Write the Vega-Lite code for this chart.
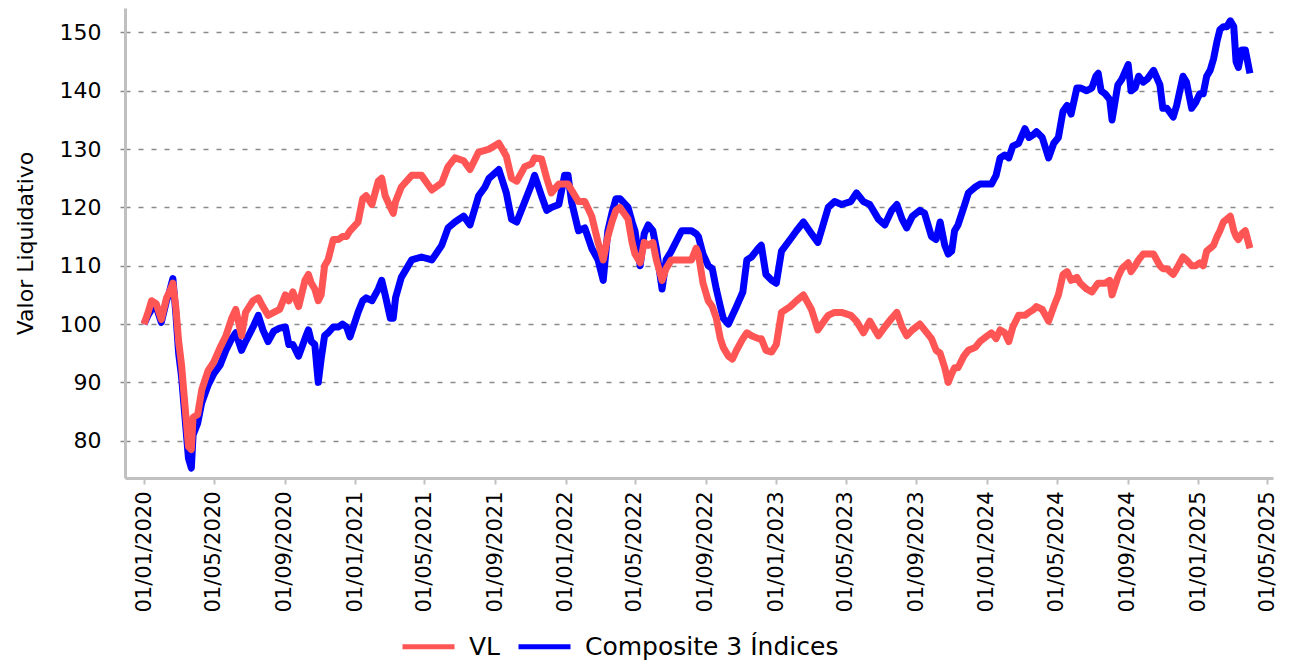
{
  "$schema": "https://vega.github.io/schema/vega-lite/v6.json",
  "autosize": "none",
  "width": 1148,
  "height": 470,
  "padding": {"left": 125, "top": 8, "right": 16, "bottom": 184},
  "background": "white",
  "config": {
    "view": {"stroke": null},
    "font": "DejaVu Sans"
  },
  "datasets": {
    "vl": [
      {"d":"2020-01-01","v":100},{"d":"2020-01-08","v":102},{"d":"2020-01-14","v":104},{"d":"2020-01-22","v":103.5},{"d":"2020-01-31","v":100.8},
      {"d":"2020-02-09","v":104.5},{"d":"2020-02-14","v":105.5},{"d":"2020-02-20","v":107},{"d":"2020-02-25","v":103},{"d":"2020-03-01","v":97},
      {"d":"2020-03-06","v":93},{"d":"2020-03-12","v":86},{"d":"2020-03-18","v":79},{"d":"2020-03-23","v":78.5},{"d":"2020-03-26","v":84},
      {"d":"2020-04-03","v":84.5},{"d":"2020-04-10","v":88.7},{"d":"2020-04-21","v":92},{"d":"2020-05-01","v":93.5},{"d":"2020-05-12","v":96},
      {"d":"2020-05-22","v":98},{"d":"2020-06-01","v":101},{"d":"2020-06-08","v":102.5},{"d":"2020-06-18","v":98},{"d":"2020-06-25","v":102},
      {"d":"2020-07-08","v":104},{"d":"2020-07-17","v":104.5},{"d":"2020-07-25","v":103},{"d":"2020-08-03","v":101.5},{"d":"2020-08-13","v":102},
      {"d":"2020-08-23","v":102.5},{"d":"2020-09-02","v":105},{"d":"2020-09-08","v":104},{"d":"2020-09-15","v":105.5},{"d":"2020-09-25","v":103},
      {"d":"2020-10-06","v":107.5},{"d":"2020-10-12","v":108.5},{"d":"2020-10-17","v":107},{"d":"2020-10-23","v":106},{"d":"2020-10-29","v":104},
      {"d":"2020-11-03","v":105},{"d":"2020-11-09","v":110},{"d":"2020-11-15","v":111},{"d":"2020-11-24","v":114.5},{"d":"2020-12-03","v":114.5},
      {"d":"2020-12-10","v":115},{"d":"2020-12-17","v":115},{"d":"2020-12-23","v":116},
      {"d":"2021-01-06","v":117.5},{"d":"2021-01-14","v":121.5},{"d":"2021-01-20","v":122},{"d":"2021-01-30","v":120.5},{"d":"2021-02-10","v":124.5},
      {"d":"2021-02-16","v":125},{"d":"2021-02-22","v":122},{"d":"2021-03-03","v":120},{"d":"2021-03-08","v":119},{"d":"2021-03-12","v":121},
      {"d":"2021-03-22","v":123.5},{"d":"2021-04-09","v":125.5},{"d":"2021-04-26","v":125.5},{"d":"2021-05-14","v":123},{"d":"2021-05-31","v":124.2},
      {"d":"2021-06-11","v":127},{"d":"2021-06-23","v":128.5},{"d":"2021-07-08","v":128},{"d":"2021-07-19","v":126.5},{"d":"2021-08-03","v":129.5},
      {"d":"2021-08-14","v":129.8},{"d":"2021-08-21","v":130},{"d":"2021-09-07","v":131},{"d":"2021-09-20","v":128.8},{"d":"2021-09-29","v":125},
      {"d":"2021-10-08","v":124.5},{"d":"2021-10-22","v":127},{"d":"2021-11-03","v":127.5},{"d":"2021-11-08","v":128.5},{"d":"2021-11-20","v":128.3},
      {"d":"2021-11-29","v":125},{"d":"2021-12-07","v":122.5},{"d":"2021-12-20","v":124},{"d":"2021-12-30","v":124},
      {"d":"2022-01-05","v":124},{"d":"2022-01-11","v":123},{"d":"2022-01-23","v":121},{"d":"2022-02-03","v":121},{"d":"2022-02-15","v":118.5},
      {"d":"2022-02-26","v":114},{"d":"2022-03-07","v":111},{"d":"2022-03-15","v":115},{"d":"2022-03-22","v":117.5},{"d":"2022-03-29","v":119.5},
      {"d":"2022-04-05","v":120},{"d":"2022-04-19","v":118},{"d":"2022-04-26","v":114},{"d":"2022-05-01","v":112},{"d":"2022-05-10","v":110.5},
      {"d":"2022-05-17","v":114},{"d":"2022-05-24","v":113.5},{"d":"2022-06-01","v":114},{"d":"2022-06-07","v":111},{"d":"2022-06-17","v":107.5},
      {"d":"2022-06-24","v":109.5},{"d":"2022-07-03","v":111},{"d":"2022-07-21","v":111},{"d":"2022-08-07","v":111},{"d":"2022-08-15","v":113},
      {"d":"2022-08-19","v":112},{"d":"2022-08-27","v":107},{"d":"2022-09-05","v":104},{"d":"2022-09-12","v":103},{"d":"2022-09-19","v":101},
      {"d":"2022-09-26","v":97.5},{"d":"2022-10-01","v":96},{"d":"2022-10-10","v":94.5},{"d":"2022-10-17","v":94},{"d":"2022-10-24","v":95.5},
      {"d":"2022-11-04","v":97.5},{"d":"2022-11-11","v":98.5},{"d":"2022-11-19","v":98},{"d":"2022-12-01","v":97.5},{"d":"2022-12-06","v":97.5},
      {"d":"2022-12-14","v":95.5},{"d":"2022-12-24","v":95.2},
      {"d":"2023-01-01","v":96.5},{"d":"2023-01-10","v":102},{"d":"2023-01-25","v":103},{"d":"2023-02-05","v":104},{"d":"2023-02-17","v":105},
      {"d":"2023-03-03","v":102.5},{"d":"2023-03-14","v":99},{"d":"2023-04-01","v":101.5},{"d":"2023-04-12","v":102},{"d":"2023-04-24","v":102},
      {"d":"2023-05-10","v":101.5},{"d":"2023-05-20","v":100.5},{"d":"2023-06-01","v":98.5},{"d":"2023-06-12","v":100.5},{"d":"2023-06-27","v":98},
      {"d":"2023-07-08","v":99.5},{"d":"2023-07-20","v":101},{"d":"2023-07-29","v":102},{"d":"2023-08-07","v":99.5},{"d":"2023-08-15","v":98},
      {"d":"2023-08-25","v":99},{"d":"2023-09-07","v":100},{"d":"2023-09-15","v":99},{"d":"2023-09-27","v":97.5},{"d":"2023-10-05","v":95.5},
      {"d":"2023-10-12","v":95},{"d":"2023-10-20","v":92.5},{"d":"2023-10-26","v":90},{"d":"2023-11-01","v":91.5},{"d":"2023-11-06","v":92.5},
      {"d":"2023-11-12","v":92.5},{"d":"2023-11-22","v":94.5},{"d":"2023-11-30","v":95.5},{"d":"2023-12-12","v":96},{"d":"2023-12-20","v":97},
      {"d":"2024-01-02","v":98},{"d":"2024-01-09","v":98.5},{"d":"2024-01-17","v":97.5},{"d":"2024-01-24","v":99},{"d":"2024-02-01","v":98.5},
      {"d":"2024-02-08","v":97},{"d":"2024-02-15","v":99.5},{"d":"2024-02-25","v":101.5},{"d":"2024-03-07","v":101.5},{"d":"2024-03-14","v":102},
      {"d":"2024-03-22","v":102.5},{"d":"2024-03-27","v":103},{"d":"2024-04-06","v":102.5},{"d":"2024-04-17","v":100.5},{"d":"2024-04-26","v":103},
      {"d":"2024-05-04","v":105},{"d":"2024-05-12","v":108.5},{"d":"2024-05-19","v":109},{"d":"2024-05-26","v":107.5},{"d":"2024-06-05","v":108},
      {"d":"2024-06-11","v":107},{"d":"2024-06-22","v":106},{"d":"2024-07-01","v":105.5},{"d":"2024-07-08","v":106.5},{"d":"2024-07-12","v":107},
      {"d":"2024-07-17","v":107},{"d":"2024-07-24","v":107},{"d":"2024-08-01","v":107.5},{"d":"2024-08-05","v":105},{"d":"2024-08-15","v":108},
      {"d":"2024-08-22","v":109.5},{"d":"2024-09-02","v":110.5},{"d":"2024-09-07","v":109},{"d":"2024-09-14","v":110},{"d":"2024-09-20","v":111},
      {"d":"2024-09-28","v":112},{"d":"2024-10-05","v":112},{"d":"2024-10-16","v":112},{"d":"2024-10-27","v":110},{"d":"2024-11-01","v":109.5},
      {"d":"2024-11-08","v":109.5},{"d":"2024-11-19","v":108.5},{"d":"2024-11-25","v":109.5},{"d":"2024-12-06","v":111.5},{"d":"2024-12-12","v":111},
      {"d":"2024-12-21","v":110},{"d":"2024-12-28","v":110},
      {"d":"2025-01-04","v":110.5},{"d":"2025-01-10","v":110},{"d":"2025-01-16","v":112.5},{"d":"2025-01-22","v":113},{"d":"2025-01-28","v":113.5},
      {"d":"2025-02-03","v":115},{"d":"2025-02-08","v":116},{"d":"2025-02-14","v":117.5},{"d":"2025-02-20","v":118},{"d":"2025-02-26","v":118.5},
      {"d":"2025-03-04","v":116},{"d":"2025-03-08","v":115},{"d":"2025-03-12","v":114.5},{"d":"2025-03-18","v":115.5},{"d":"2025-03-24","v":116},
      {"d":"2025-04-01","v":113}
    ],
    "comp": [
      {"d":"2020-01-01","v":100},{"d":"2020-01-08","v":101.5},{"d":"2020-01-14","v":102.5},{"d":"2020-01-22","v":103},{"d":"2020-01-31","v":100.3},
      {"d":"2020-02-09","v":104},{"d":"2020-02-14","v":105.5},{"d":"2020-02-20","v":107.8},{"d":"2020-02-25","v":102},{"d":"2020-03-01","v":95},
      {"d":"2020-03-06","v":91},{"d":"2020-03-12","v":84},{"d":"2020-03-18","v":77},{"d":"2020-03-23","v":75.3},{"d":"2020-03-26","v":81},
      {"d":"2020-04-03","v":83},{"d":"2020-04-10","v":86.5},{"d":"2020-04-21","v":89.5},{"d":"2020-05-01","v":91.5},{"d":"2020-05-12","v":93},
      {"d":"2020-05-22","v":95.5},{"d":"2020-06-01","v":97.5},{"d":"2020-06-08","v":98.5},{"d":"2020-06-18","v":95.5},{"d":"2020-06-25","v":97},
      {"d":"2020-07-08","v":99.5},{"d":"2020-07-17","v":101.5},{"d":"2020-07-25","v":99},{"d":"2020-08-03","v":97},{"d":"2020-08-13","v":98.8},
      {"d":"2020-08-23","v":99.3},{"d":"2020-09-02","v":99.5},{"d":"2020-09-08","v":96.5},{"d":"2020-09-15","v":96.5},{"d":"2020-09-25","v":94.5},
      {"d":"2020-10-06","v":97.5},{"d":"2020-10-12","v":99},{"d":"2020-10-17","v":97},{"d":"2020-10-23","v":96.5},{"d":"2020-10-29","v":90},
      {"d":"2020-11-03","v":94},{"d":"2020-11-09","v":98},{"d":"2020-11-15","v":98.5},{"d":"2020-11-24","v":99.5},{"d":"2020-12-03","v":99.5},
      {"d":"2020-12-10","v":100},{"d":"2020-12-17","v":99.5},{"d":"2020-12-23","v":97.8},
      {"d":"2021-01-06","v":102},{"d":"2021-01-14","v":104},{"d":"2021-01-20","v":104.5},{"d":"2021-01-30","v":104},{"d":"2021-02-10","v":106},
      {"d":"2021-02-16","v":107.5},{"d":"2021-02-22","v":105},{"d":"2021-03-03","v":101},{"d":"2021-03-08","v":101},{"d":"2021-03-12","v":104.5},
      {"d":"2021-03-22","v":108},{"d":"2021-04-09","v":111},{"d":"2021-04-26","v":111.5},{"d":"2021-05-14","v":111},{"d":"2021-05-31","v":113.5},
      {"d":"2021-06-11","v":116.5},{"d":"2021-06-23","v":117.5},{"d":"2021-07-08","v":118.5},{"d":"2021-07-19","v":117},{"d":"2021-08-03","v":122},
      {"d":"2021-08-14","v":123.5},{"d":"2021-08-21","v":125},{"d":"2021-09-07","v":126.5},{"d":"2021-09-20","v":122.5},{"d":"2021-09-29","v":118},
      {"d":"2021-10-08","v":117.5},{"d":"2021-10-22","v":121},{"d":"2021-11-03","v":124},{"d":"2021-11-08","v":125.5},{"d":"2021-11-20","v":122},
      {"d":"2021-11-29","v":119.5},{"d":"2021-12-07","v":120},{"d":"2021-12-20","v":120.5},{"d":"2021-12-30","v":125.5},
      {"d":"2022-01-05","v":125.5},{"d":"2022-01-11","v":121},{"d":"2022-01-23","v":116},{"d":"2022-02-03","v":116.5},{"d":"2022-02-15","v":113},
      {"d":"2022-02-26","v":111},{"d":"2022-03-07","v":107.5},{"d":"2022-03-15","v":116},{"d":"2022-03-22","v":119},{"d":"2022-03-29","v":121.5},
      {"d":"2022-04-05","v":121.5},{"d":"2022-04-19","v":120},{"d":"2022-04-26","v":117.5},{"d":"2022-05-01","v":116},{"d":"2022-05-10","v":110},
      {"d":"2022-05-17","v":115.5},{"d":"2022-05-24","v":117},{"d":"2022-06-01","v":116},{"d":"2022-06-07","v":113},{"d":"2022-06-17","v":106},
      {"d":"2022-06-24","v":111},{"d":"2022-07-03","v":112.5},{"d":"2022-07-21","v":116},{"d":"2022-08-07","v":116},{"d":"2022-08-15","v":115.5},
      {"d":"2022-08-19","v":115},{"d":"2022-08-27","v":112},{"d":"2022-09-05","v":110},{"d":"2022-09-12","v":109.5},{"d":"2022-09-19","v":106},
      {"d":"2022-09-26","v":103},{"d":"2022-10-01","v":101},{"d":"2022-10-10","v":100},{"d":"2022-10-17","v":101.5},{"d":"2022-10-24","v":103},
      {"d":"2022-11-04","v":105.5},{"d":"2022-11-11","v":111},{"d":"2022-11-19","v":111.5},{"d":"2022-12-01","v":113},{"d":"2022-12-06","v":113.5},
      {"d":"2022-12-14","v":108.5},{"d":"2022-12-24","v":107.5},
      {"d":"2023-01-01","v":107},{"d":"2023-01-10","v":112.5},{"d":"2023-01-25","v":114.5},{"d":"2023-02-05","v":116},{"d":"2023-02-17","v":117.5},
      {"d":"2023-03-03","v":115.5},{"d":"2023-03-14","v":114},{"d":"2023-04-01","v":120},{"d":"2023-04-12","v":121},{"d":"2023-04-24","v":120.5},
      {"d":"2023-05-10","v":121},{"d":"2023-05-20","v":122.5},{"d":"2023-06-01","v":121},{"d":"2023-06-12","v":120.5},{"d":"2023-06-27","v":118},
      {"d":"2023-07-08","v":117},{"d":"2023-07-20","v":119.5},{"d":"2023-07-29","v":120.5},{"d":"2023-08-07","v":118},{"d":"2023-08-15","v":116.5},
      {"d":"2023-08-25","v":118.5},{"d":"2023-09-07","v":119.5},{"d":"2023-09-15","v":119},{"d":"2023-09-27","v":115},{"d":"2023-10-05","v":114.5},
      {"d":"2023-10-12","v":117.5},{"d":"2023-10-20","v":113.5},{"d":"2023-10-26","v":112},{"d":"2023-11-01","v":112.5},{"d":"2023-11-06","v":116},
      {"d":"2023-11-12","v":117},{"d":"2023-11-22","v":120},{"d":"2023-11-30","v":122.5},{"d":"2023-12-12","v":123.5},{"d":"2023-12-20","v":124},
      {"d":"2024-01-02","v":124},{"d":"2024-01-09","v":124},{"d":"2024-01-17","v":125.5},{"d":"2024-01-24","v":128.5},{"d":"2024-02-01","v":129},
      {"d":"2024-02-08","v":128.5},{"d":"2024-02-15","v":130.5},{"d":"2024-02-25","v":131},{"d":"2024-03-07","v":133.5},{"d":"2024-03-14","v":132},
      {"d":"2024-03-22","v":132.5},{"d":"2024-03-27","v":133},{"d":"2024-04-06","v":132},{"d":"2024-04-17","v":128.5},{"d":"2024-04-26","v":131},
      {"d":"2024-05-04","v":132},{"d":"2024-05-12","v":136.5},{"d":"2024-05-19","v":137.5},{"d":"2024-05-26","v":136},{"d":"2024-06-05","v":140.5},
      {"d":"2024-06-11","v":140.5},{"d":"2024-06-22","v":140},{"d":"2024-07-01","v":140.5},{"d":"2024-07-08","v":142.5},{"d":"2024-07-12","v":143},
      {"d":"2024-07-17","v":140},{"d":"2024-07-24","v":139.5},{"d":"2024-08-01","v":138.5},{"d":"2024-08-05","v":135},{"d":"2024-08-15","v":141},
      {"d":"2024-08-22","v":142},{"d":"2024-09-02","v":144.5},{"d":"2024-09-07","v":140},{"d":"2024-09-14","v":140.5},{"d":"2024-09-20","v":142.5},
      {"d":"2024-09-28","v":141.5},{"d":"2024-10-05","v":142},{"d":"2024-10-16","v":143.5},{"d":"2024-10-27","v":141},{"d":"2024-11-01","v":137},
      {"d":"2024-11-08","v":137},{"d":"2024-11-19","v":135.5},{"d":"2024-11-25","v":137.5},{"d":"2024-12-06","v":142.5},{"d":"2024-12-12","v":141.5},
      {"d":"2024-12-21","v":137},{"d":"2024-12-28","v":138},
      {"d":"2025-01-04","v":139.5},{"d":"2025-01-10","v":139.5},{"d":"2025-01-16","v":142.5},{"d":"2025-01-22","v":143.5},{"d":"2025-01-28","v":145.5},
      {"d":"2025-02-03","v":148.5},{"d":"2025-02-08","v":150.5},{"d":"2025-02-14","v":151},{"d":"2025-02-20","v":151},{"d":"2025-02-26","v":152},
      {"d":"2025-03-04","v":151},{"d":"2025-03-08","v":145},{"d":"2025-03-12","v":144},{"d":"2025-03-18","v":147},{"d":"2025-03-24","v":147},
      {"d":"2025-04-01","v":143}
    ]
  },
  "encoding": {
    "x": {
      "field": "d",
      "type": "temporal",
      "title": null,
      "scale": {
        "type": "utc",
        "domain": [
          {"year": 2019, "month": 11, "date": 29, "utc": true},
          {"year": 2025, "month": 5, "date": 11, "utc": true}
        ]
      },
      "axis": {
        "values": [
          {"year":2020,"month":1,"date":1,"utc":true},{"year":2020,"month":5,"date":1,"utc":true},{"year":2020,"month":9,"date":1,"utc":true},
          {"year":2021,"month":1,"date":1,"utc":true},{"year":2021,"month":5,"date":1,"utc":true},{"year":2021,"month":9,"date":1,"utc":true},
          {"year":2022,"month":1,"date":1,"utc":true},{"year":2022,"month":5,"date":1,"utc":true},{"year":2022,"month":9,"date":1,"utc":true},
          {"year":2023,"month":1,"date":1,"utc":true},{"year":2023,"month":5,"date":1,"utc":true},{"year":2023,"month":9,"date":1,"utc":true},
          {"year":2024,"month":1,"date":1,"utc":true},{"year":2024,"month":5,"date":1,"utc":true},{"year":2024,"month":9,"date":1,"utc":true},
          {"year":2025,"month":1,"date":1,"utc":true},{"year":2025,"month":5,"date":1,"utc":true}
        ],
        "labelExpr": "utcFormat(datum.value, '%d/%m/%Y')",
        "labelAngle": -90,
        "labelFontSize": 21,
        "labelFont": "DejaVu Sans",
        "labelColor": "#000000",
        "labelPadding": 7,
        "labelFlush": false,
        "labelOverlap": false,
        "grid": false,
        "domainColor": "#c0c0c0",
        "domainWidth": 3,
        "tickColor": "#c0c0c0",
        "tickWidth": 2,
        "tickSize": 6
      }
    },
    "y": {
      "field": "v",
      "type": "quantitative",
      "title": "Valor Liquidativo",
      "scale": {"domain": [73.6, 154.2], "nice": false, "zero": false},
      "axis": {
        "values": [80, 90, 100, 110, 120, 130, 140, 150],
        "labelFontSize": 22,
        "labelFont": "DejaVu Sans",
        "labelColor": "#000000",
        "labelPadding": 16,
        "titleFont": "DejaVu Sans",
        "titleFontSize": 22,
        "titleFontWeight": "normal",
        "titleColor": "#000000",
        "titlePadding": 22,
        "grid": true,
        "gridColor": "#8a8a8a",
        "gridWidth": 1.5,
        "gridDash": [5, 8],
        "tickColor": "#8a8a8a",
        "tickWidth": 1.5,
        "tickSize": 8,
        "tickDash": [5, 8],
        "domainColor": "#c0c0c0",
        "domainWidth": 3
      }
    }
  },
  "layer": [
    {
      "data": {"name": "comp"},
      "mark": {"type": "line", "strokeWidth": 7, "strokeJoin": "round"},
      "encoding": {
        "color": {
          "datum": "Composite 3 Índices",
          "type": "nominal",
          "scale": {"domain": ["VL", "Composite 3 Índices"], "range": ["#ff5555", "#0000ff"]},
          "legend": {
            "title": null,
            "orient": "none",
            "legendX": 275,
            "legendY": 610,
            "direction": "horizontal",
            "symbolType": "stroke",
            "symbolStrokeWidth": 5,
            "symbolSize": 2704,
            "labelFontSize": 25,
            "labelFont": "DejaVu Sans",
            "labelColor": "#000000",
            "labelLimit": 500,
            "labelOffset": 12,
            "columnPadding": 7
          }
        }
      }
    },
    {
      "data": {"name": "vl"},
      "mark": {"type": "line", "strokeWidth": 7, "strokeJoin": "round"},
      "encoding": {
        "color": {"datum": "VL", "type": "nominal"}
      }
    }
  ]
}
